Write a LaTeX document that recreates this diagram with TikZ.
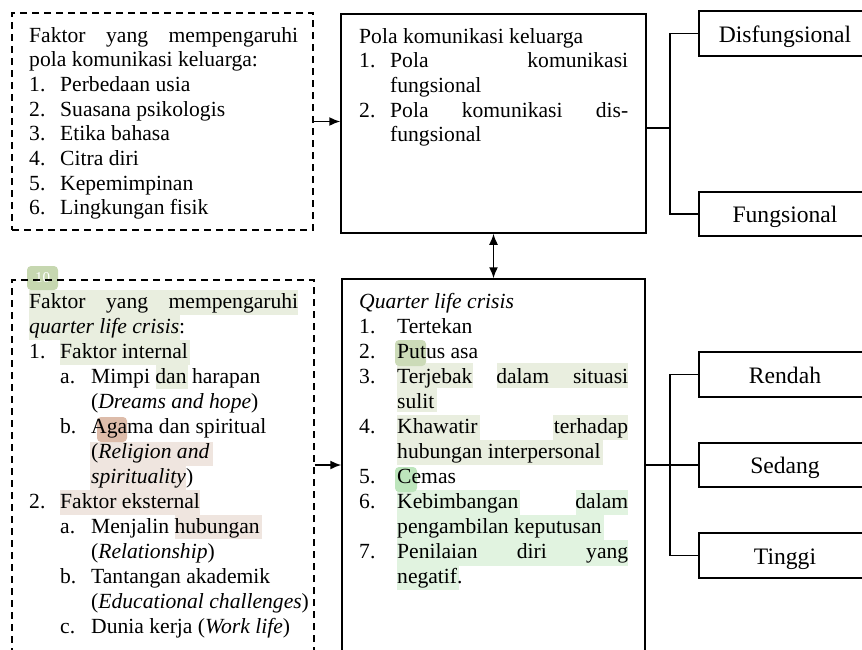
\documentclass[tikz,border=0pt]{standalone}
\usepackage{fontspec}
\setmainfont{Liberation Serif}
\usetikzlibrary{arrows.meta}
\definecolor{hlA}{HTML}{E9EEDF}
\definecolor{hlB}{HTML}{EFE5DF}
\definecolor{hlC}{HTML}{E1F3E0}
\definecolor{tagA}{HTML}{C6D7B0}
\definecolor{tagB}{HTML}{DDBCAA}
\definecolor{tagC}{HTML}{BDE5BC}
\tikzset{
  box/.style={draw, line width=1.5pt, inner sep=0pt},
  dbox/.style={box, dash pattern=on 7pt off 5pt},
  txt/.style={anchor=base west, inner sep=0pt, font=\fontsize{21.6}{26}\selectfont},
  lvl/.style={box, minimum width=172pt, text height=17pt, text depth=0pt,
              font=\fontsize{23.6}{28}\selectfont},
  tag/.style={rounded corners=4pt},
  arr/.style={-{Latex[length=11pt,width=9pt]}, line width=1.5pt},
  link/.style={line width=1.5pt}
}
\newcommand{\lnum}[2][31pt]{\makebox[#1][l]{#2}}
\begin{document}
\begin{tikzpicture}[x=1pt,y=-1pt]
  \useasboundingbox (0,0) rectangle (862,649);
  % highlights
  \foreach \a/\b/\c/\d in {29/290/298/315, 29/315/180/340, 60/340/190/365, 156/365/188/389,
      397/363/473/388, 497/363/628/388, 397/388/437/412, 397/415/480/440,
      553/415/628/440, 397/440/603/465}
    \fill[hlA] (\a,\b) rectangle (\c,\d);
  \foreach \a/\b/\c/\d in {90/442/213/466, 90/466/186/490, 60/490/200/515, 175/515/262/539}
    \fill[hlB] (\a,\b) rectangle (\c,\d);
  \foreach \a/\b/\c/\d in {397/490/520/515, 576/490/628/515, 397/515/604/540,
      397/540/628/566, 397/566/459/590}
    \fill[hlC] (\a,\b) rectangle (\c,\d);
  \fill[tag, tagB] (97,417) rectangle (127,442);
  \fill[tag, tagA!90!white] (395,340) rectangle (426,366);
  \fill[tag, tagC] (395,467) rectangle (417,492);
  \node[tag, fill=tagA, text=white, minimum width=31pt, minimum height=24pt,
        inner sep=0pt, font=\fontsize{15}{18}\selectfont] (tag10) at (42.5,278) {10};

  % boxes
  \node[dbox, minimum width=301pt, minimum height=217pt] (faktorpola) at (162.5,121.5) {};
  \node[box, minimum width=305pt, minimum height=219pt] (polakom) at (493.5,123.5) {};
  \node[dbox, minimum width=302pt, minimum height=420pt] (faktorqlc) at (163,490) {};
  \node[box, minimum width=303pt, minimum height=421pt] (qlc) at (493.5,489.5) {};
  \node[lvl, minimum height=45pt] (disfung) at (785,33.5) {Disfungsional};
  \node[lvl, minimum height=44pt] (fung) at (785,214) {Fungsional};
  \node[lvl, minimum height=45pt] (rendah) at (785,374.5) {Rendah};
  \node[lvl, minimum height=44pt] (sedang) at (785,465) {Sedang};
  \node[lvl, minimum height=45pt] (tinggi) at (785,555.5) {Tinggi};

  % text
  \foreach \t [count=\i] in {
      {\makebox[269pt][s]{Faktor yang mempengaruhi}},
      {pola komunikasi keluarga:},
      {\lnum{1.}Perbedaan usia},
      {\lnum{2.}Suasana psikologis},
      {\lnum{3.}Etika bahasa},
      {\lnum{4.}Citra diri},
      {\lnum{5.}Kepemimpinan},
      {\lnum{6.}Lingkungan fisik}}
    \node[txt] (fp\i) at (29,{42+24.7*(\i-1)}) {\t};
  \foreach \t [count=\i] in {
      {Pola komunikasi keluarga},
      {\lnum{1.}\makebox[238pt][s]{Pola komunikasi}},
      {\hspace*{31pt}fungsional},
      {\lnum{2.}\makebox[238pt][s]{Pola komunikasi dis-}},
      {\hspace*{31pt}fungsional}}
    \node[txt] (pk\i) at (359,{43+24.7*(\i-1)}) {\t};
  \foreach \t [count=\i] in {
      {\makebox[269pt][s]{Faktor yang mempengaruhi}},
      {\textit{quarter life crisis}:},
      {\lnum{1.}Faktor internal},
      {\hspace*{31pt}\lnum{a.}Mimpi dan harapan},
      {\hspace*{62pt}(\textit{Dreams and hope})},
      {\hspace*{31pt}\lnum{b.}Agama dan spiritual},
      {\hspace*{62pt}(\textit{Religion and}},
      {\hspace*{62pt}\textit{spirituality})},
      {\lnum{2.}Faktor eksternal},
      {\hspace*{31pt}\lnum{a.}Menjalin hubungan},
      {\hspace*{62pt}(\textit{Relationship})},
      {\hspace*{31pt}\lnum{b.}Tantangan akademik},
      {\hspace*{62pt}(\textit{Educational challenges})},
      {\hspace*{31pt}\lnum{c.}Dunia kerja (\textit{Work life})}}
    \node[txt] (fq\i) at (29,{308+25*(\i-1)}) {\t};
  \foreach \t [count=\i] in {
      {\textit{Quarter life crisis}},
      {\lnum[38pt]{1.}Tertekan},
      {\lnum[38pt]{2.}Putus asa},
      {\lnum[38pt]{3.}\makebox[231pt][s]{Terjebak dalam situasi}},
      {\hspace*{38pt}sulit},
      {\lnum[38pt]{4.}\makebox[231pt][s]{Khawatir terhadap}},
      {\hspace*{38pt}hubungan interpersonal},
      {\lnum[38pt]{5.}Cemas},
      {\lnum[38pt]{6.}\makebox[231pt][s]{Kebimbangan dalam}},
      {\hspace*{38pt}pengambilan keputusan},
      {\lnum[38pt]{7.}\makebox[231pt][s]{Penilaian diri yang}},
      {\hspace*{38pt}negatif.}}
    \node[txt] (ql\i) at (359,{308+25*(\i-1)}) {\t};

  % connectors
  \coordinate (qmid) at (330,465);
  \coordinate (jt) at (670,128);
  \coordinate (jb) at (670,465);
  \draw[arr] (faktorpola.east) -- (faktorpola.east -| polakom.west);
  \draw[arr, {Latex[length=11pt,width=9pt]}-{Latex[length=11pt,width=9pt]}]
    (polakom.south) -- (qlc.north);
  \draw[arr] (faktorqlc.east |- qmid) -- (qlc.west |- qmid);
  \draw[link] (polakom.east |- jt) -- (jt);
  \draw[link] (disfung.west) -| (jt) |- (fung.west);
  \draw[link] (qlc.east |- sedang.west) -- (sedang.west);
  \draw[link] (rendah.west) -| (jb) |- (tinggi.west);
\end{tikzpicture}
\end{document}
